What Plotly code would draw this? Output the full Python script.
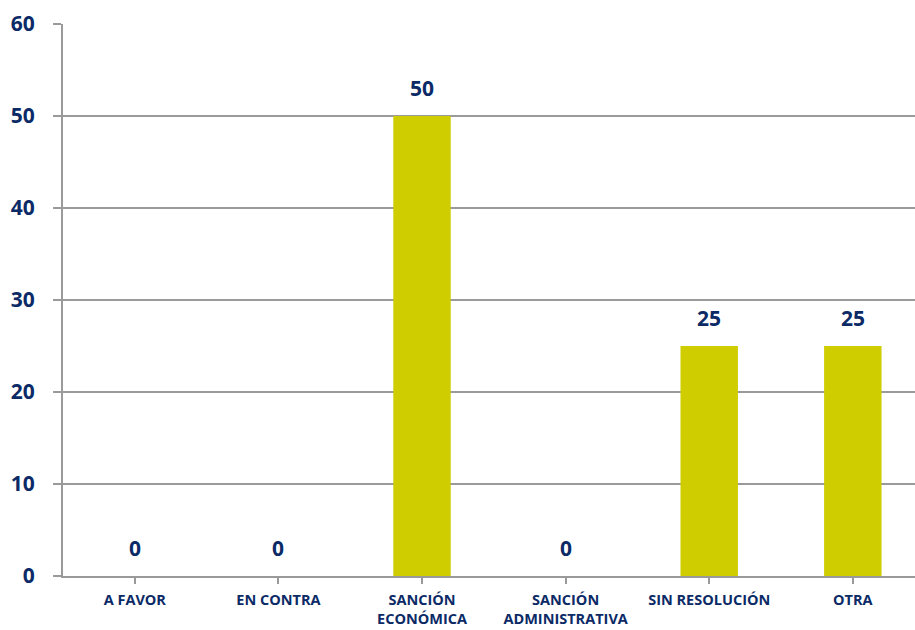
import plotly.graph_objects as go

categories = ["A FAVOR", "EN CONTRA", "SANCIÓN<br>ECONÓMICA", "SANCIÓN<br>ADMINISTRATIVA",
              "SIN RESOLUCIÓN", "OTRA"]
values = [0, 0, 50, 0, 25, 25]
y_ticks = [0, 10, 20, 30, 40, 50, 60]

navy = "#0b2a66"
grid = "#9a9a9a"
font_family = "Open Sans, Lato, sans-serif"

xs = list(range(len(categories)))

fig = go.Figure(go.Bar(
    x=xs,
    y=values,
    width=0.4,
    marker=dict(color="#cfcd00", line=dict(width=0)),
    hoverinfo="x+y",
))

# value labels floating above each bar
for x, v in zip(xs, values):
    fig.add_annotation(
        x=x, y=v, text=f"<b>{v}</b>", showarrow=False,
        yanchor="middle", yshift=28,
        font=dict(family=font_family, size=21, color=navy),
    )

fig.update_layout(
    width=915, height=630,
    margin=dict(l=63, r=0, t=24, b=54),
    paper_bgcolor="white", plot_bgcolor="white",
    showlegend=False,
    xaxis=dict(
        range=[-0.5, 5.433],
        tickmode="array",
        tickvals=xs,
        ticktext=[f"<b>{c}</b>" for c in categories],
        tickfont=dict(family=font_family, size=14.5, color=navy),
        showline=True, linecolor=grid, linewidth=2,
        ticks="outside", ticklen=6, tickcolor=grid, tickwidth=2,
        tickson="boundaries",
        showgrid=False, zeroline=False,
        ticklabelstandoff=4,
    ),
    yaxis=dict(
        range=[0, 60],
        tickvals=y_ticks,
        ticktext=[f"<b>{t}</b>" for t in y_ticks],
        tickfont=dict(family=font_family, size=21, color=navy),
        showline=True, linecolor=grid, linewidth=2,
        ticks="outside", ticklen=8, tickcolor=grid, tickwidth=2,
        showgrid=True, gridcolor=grid, gridwidth=2,
        zeroline=False,
        ticklabelstandoff=14,
    ),
)

fig.write_html("out.html")
